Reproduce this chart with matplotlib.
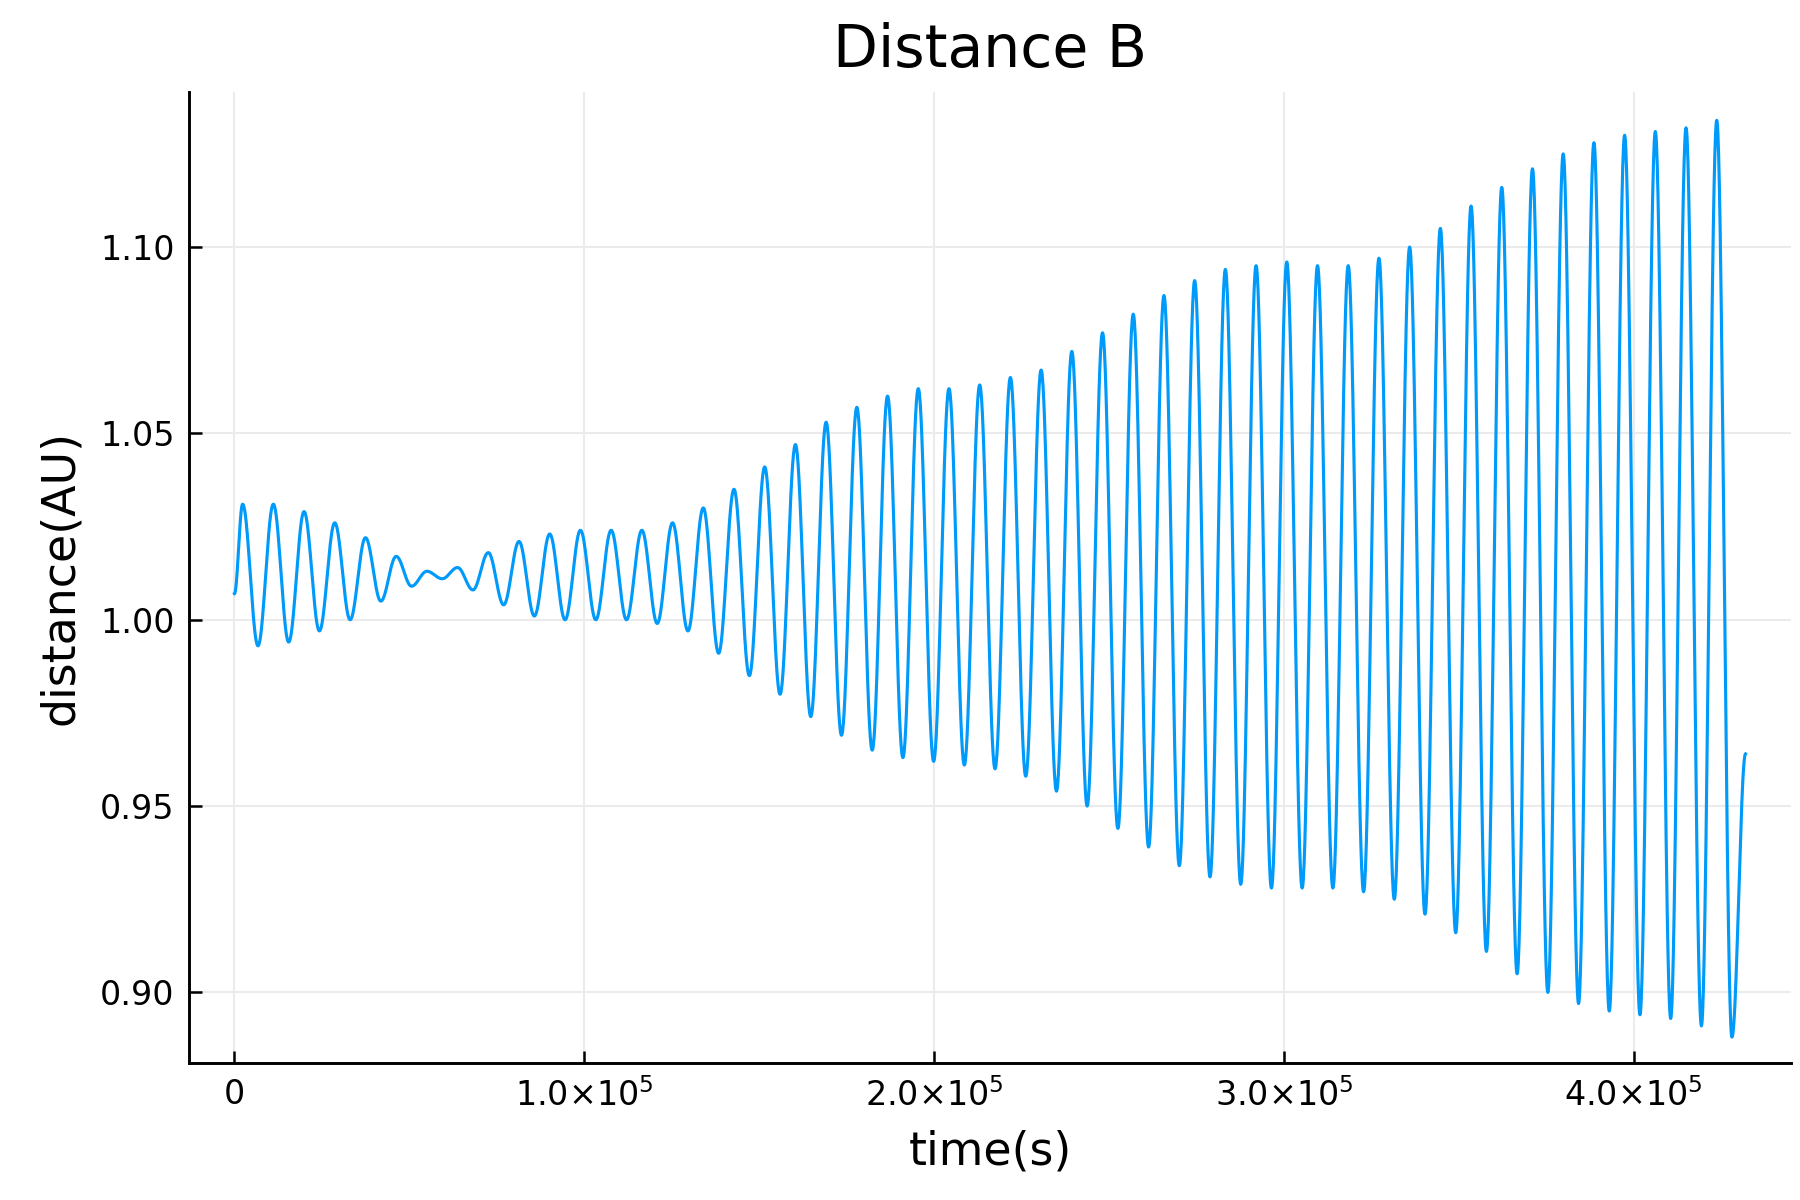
import numpy as np
import matplotlib.pyplot as plt
from matplotlib.ticker import FuncFormatter

# extrema (distance in AU)
peak_vals = [1.031, 1.031, 1.029, 1.026, 1.022, 1.017, 1.013, 1.014, 1.018, 1.021,
             1.023, 1.024, 1.024, 1.024, 1.026, 1.030, 1.035, 1.041, 1.047, 1.053,
             1.057, 1.060, 1.062, 1.062, 1.063, 1.065, 1.067, 1.072, 1.077, 1.082,
             1.087, 1.091, 1.094, 1.095, 1.096, 1.095, 1.095, 1.097, 1.100, 1.105,
             1.111, 1.116, 1.121, 1.125, 1.128, 1.130, 1.131, 1.132, 1.134]
trough_vals = [0.993, 0.994, 0.997, 1.000, 1.005, 1.009, 1.011, 1.008, 1.004, 1.001,
               1.000, 1.000, 1.000, 0.999, 0.997, 0.991, 0.985, 0.980, 0.974, 0.969,
               0.965, 0.963, 0.962, 0.961, 0.960, 0.958, 0.954, 0.950, 0.944, 0.939,
               0.934, 0.931, 0.929, 0.928, 0.928, 0.928, 0.927, 0.925, 0.921, 0.916,
               0.911, 0.905, 0.900, 0.897, 0.895, 0.894, 0.893, 0.891, 0.888]
start_val = 1.007
end_val = 0.964
first_peak_t = 2333.0
period = 8780.0
end_t = 432000.0

# knot times/values: start, alternating peak/trough, end
knot_t = [0.0]
knot_v = [start_val]
for i, (p, tr) in enumerate(zip(peak_vals, trough_vals)):
    tp = first_peak_t + i * period
    knot_t += [tp, tp + period / 2 if i < len(peak_vals) - 1 else tp + 4333.0]
    knot_v += [p, tr]
knot_t.append(end_t)
knot_v.append(end_val)

# smooth half-cosine between consecutive extrema
t_all, d_all = [], []
for k in range(len(knot_t) - 1):
    s = np.linspace(0, 1, 40, endpoint=False)
    t_all.append(knot_t[k] + s * (knot_t[k + 1] - knot_t[k]))
    d_all.append(knot_v[k] + (knot_v[k + 1] - knot_v[k]) * (1 - np.cos(np.pi * s)) / 2)
t_all.append([knot_t[-1]])
d_all.append([knot_v[-1]])
t = np.concatenate(t_all)
d = np.concatenate(d_all)

plt.rcParams['font.family'] = ['DejaVu Sans']
fig = plt.figure(figsize=(6, 4), dpi=300)
ax = fig.add_axes([0.105, 0.114, 0.89, 0.809])
ax.plot(t, d, color='#009AFA', lw=0.75)

ax.set_xlim(-13000, 445000)
ax.set_ylim(0.881, 1.1415)
ax.set_xticks([0, 1e5, 2e5, 3e5, 4e5])
ax.set_yticks([0.90, 0.95, 1.00, 1.05, 1.10])
ax.xaxis.set_major_formatter(FuncFormatter(
    lambda v, p: '0' if v == 0 else r'%.1f$\times$10$^{5}$' % (v / 1e5)))
ax.yaxis.set_major_formatter(FuncFormatter(lambda v, p: '%.2f' % v))
ax.grid(True, color='#ebebeb', lw=0.5)
for s in ['top', 'right']:
    ax.spines[s].set_visible(False)
ax.spines['left'].set_linewidth(0.7)
ax.spines['bottom'].set_linewidth(0.7)
ax.tick_params(labelsize=8, width=0.6, length=3, direction='in')
ax.set_xlabel('time(s)', fontsize=11)
ax.set_ylabel('distance(AU)', fontsize=11)
ax.set_title('Distance B', fontsize=14)

fig.savefig('out.png')
